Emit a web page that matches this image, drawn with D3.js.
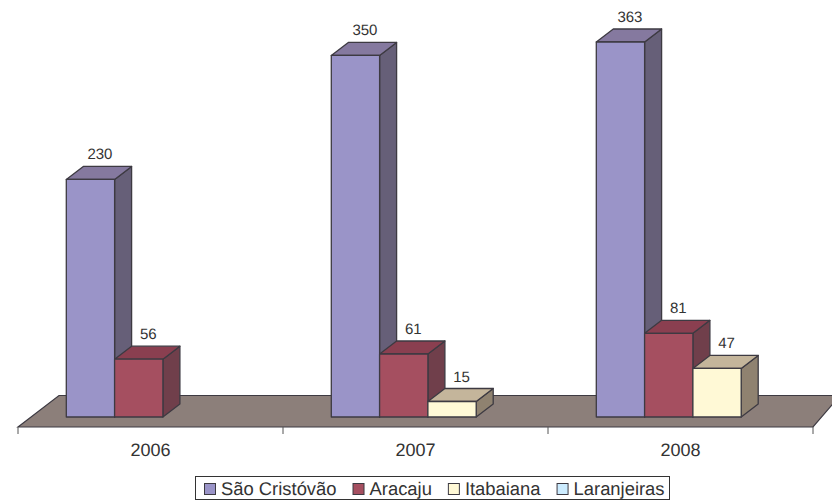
<!DOCTYPE html>
<html lang="en">
    <head>
        <meta charset="utf-8">
        <title>São Cristóvão, Aracaju, Itabaiana, Laranjeiras</title>
        <script type="text/javascript" src="https://cdn.jsdelivr.net/npm/d3@7"></script>
        <style>
            body { margin: 0; background: white; }
            svg { display: block; }
            text { font-family: "Liberation Sans", sans-serif; fill: #333; text-rendering: geometricPrecision; }
        </style>
    </head>
    <body>
        <script type="text/javascript">
            // values, null = no bar drawn
            const years = ["2006", "2007", "2008"]
            const series = ["São Cristóvão", "Aracaju", "Itabaiana", "Laranjeiras"]
            const saoCristovao = [230, 350, 363]
            const aracaju = [56, 61, 81]
            const itabaiana = [null, 15, 47]
            const laranjeiras = [null, null, null]
            const seriesValues = [saoCristovao, aracaju, itabaiana, laranjeiras]

            const front = ["#9a94c8", "#a54f60", "#fff9d6", "#ccecff"]
            const side = ["#665f78", "#703f4b", "#8f8270", "#7f9aa8"]
            const top_ = ["#85799f", "#8a3f50", "#c4b59b", "#a8c8d8"]

            const w = 832
            const h = 500
            const line = "#3d3a42"
            const dx = 17    // depth of a bar
            const dy = -13
            const baseY = 417
            const axisY = 427

            let svg = d3.select("body")
                        .append("svg")
                            .attr("width",w)
                            .attr("height",h)

            let x = d3.scaleBand().domain(years).range([18,813])
            let xInner = d3.scaleBand().domain(series).range([48.3,48.3+48.3*4])
            let y = d3.scaleLinear().domain([0,363]).range([baseY,42])

            // floor
            svg.append("path")
                .attr("d",d3.line()([[18,axisY],[59,395.5],[840,395.5],[813,axisY]])+"Z")
                .attr("fill","#8c7f7a")
                .attr("stroke",line)
                .attr("stroke-width",1.2)

            // axis labels sit in the band centres, ticks on the band edges
            let axis = svg.append("g")
                .attr("transform","translate(0,"+axisY+")")
                .call(d3.axisBottom(x).tickSize(0).tickPadding(16))
            axis.select(".domain").remove()
            axis.selectAll("text")
                .attr("font-size","18px")
                .attr("font-family",null)
                .style("font-family",'"Liberation Sans", sans-serif')

            svg.selectAll("line.tick-edge")
                .data([...years.map(d=>x(d)), x("2008")+x.step()])
                .enter()
                .append("line")
                .attr("class","tick-edge")
                .attr("x1",d=>d)
                .attr("x2",d=>d)
                .attr("y1",axisY)
                .attr("y2",axisY+7)
                .attr("stroke","#555")
                .attr("stroke-width",1)

            // bars go left to right so the next bar covers the previous side face
            let bars = []
            years.forEach((year,i)=>{
                series.forEach((name,j)=>{
                    if (seriesValues[j][i] !== null){
                        bars.push({year:year,name:name,value:seriesValues[j][i],s:j})
                    }
                })
            })

            let bar = svg.selectAll("g.bar")
                .data(bars)
                .enter()
                .append("g")
                .attr("class","bar")
                .attr("stroke",line)
                .attr("stroke-width",1.3)
                .attr("stroke-linejoin","round")

            function left(d){ return x(d.year)+xInner(d.name) }
            function right(d){ return left(d)+xInner.bandwidth() }

            bar.append("path")
                .attr("fill",d=>side[d.s])
                .attr("d",d=>d3.line()([[right(d),baseY],[right(d)+dx,baseY+dy],[right(d)+dx,y(d.value)+dy],[right(d),y(d.value)]])+"Z")
            bar.append("path")
                .attr("fill",d=>top_[d.s])
                .attr("d",d=>d3.line()([[left(d),y(d.value)],[left(d)+dx,y(d.value)+dy],[right(d)+dx,y(d.value)+dy],[right(d),y(d.value)]])+"Z")
            bar.append("rect")
                .attr("fill",d=>front[d.s])
                .attr("x",d=>left(d))
                .attr("y",d=>y(d.value))
                .attr("width",xInner.bandwidth())
                .attr("height",d=>baseY-y(d.value))

            svg.selectAll("text.value")
                .data(bars)
                .enter()
                .append("text")
                .attr("class","value")
                .attr("x",d=>left(d)+xInner.bandwidth()/2+9.5)
                .attr("y",d=>y(d.value)+dy-7)
                .attr("text-anchor","middle")
                .attr("font-size","15px")
                .text(d=>d.value)

            // legend
            svg.append("rect")
                .attr("x",195.5)
                .attr("y",476.5)
                .attr("width",474)
                .attr("height",23)
                .attr("fill","white")
                .attr("stroke","#333")
                .attr("stroke-width",1)

            let legendX = 204
            series.forEach((name,i)=>{
                svg.append("rect")
                    .attr("x",legendX+0.5)
                    .attr("y",483.5)
                    .attr("width",11)
                    .attr("height",11)
                    .attr("fill",front[i])
                    .attr("stroke",line)
                    .attr("stroke-width",1)
                let label = svg.append("text")
                    .attr("x",legendX+17)
                    .attr("y",495)
                    .attr("font-size","18.4px")
                    .text(name)
                legendX += 17+label.node().getComputedTextLength()+16
            })
        </script>
    </body>
</html>
